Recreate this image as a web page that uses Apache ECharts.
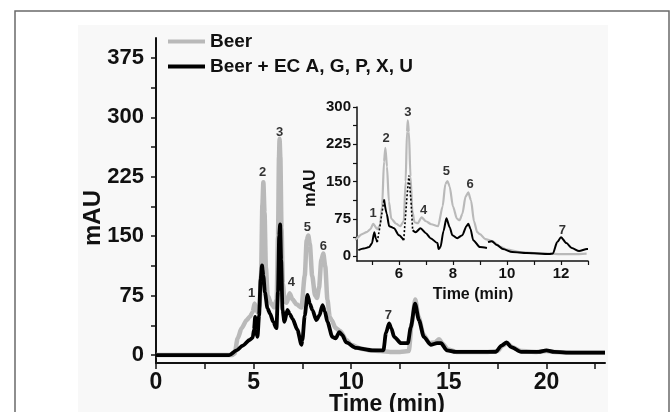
<!DOCTYPE html>
<html lang="en">
<head>
    <meta charset="UTF-8">
    <title>Beer electropherogram</title>
    <script src="https://cdn.jsdelivr.net/npm/echarts@6/dist/echarts.min.js"></script>
    <style>
        html, body { margin: 0; padding: 0; background: #fff; }
    </style>
</head>
<body>
    <div id="chart" style="width:670px; height:412px"></div>
    <script>
        // main trace: Beer (grey)
        const beerTime = [0, 3.9, 4.03, 4.18, 4.39, 4.64, 4.8, 4.95, 5.05, 5.2, 5.3, 5.38, 5.45, 5.5, 5.56, 5.63, 5.72, 5.9, 6.05, 6.18, 6.25, 6.3, 6.33, 6.37, 6.43, 6.5, 6.58, 6.7, 6.84, 7.0, 7.2, 7.45, 7.62, 7.72, 7.8, 7.88, 8.0, 8.15, 8.25, 8.35, 8.47, 8.57, 8.67, 8.78, 8.9, 9.0, 9.2, 9.45, 9.75, 10.0, 10.5, 11.0, 11.5, 12.0, 12.5, 12.95, 13.1, 13.28, 13.45, 13.7, 14.0, 14.3, 14.5, 14.7, 14.95, 15.4, 16, 17, 17.5, 17.75, 18.0, 18.25, 18.7, 19.5, 20.0, 20.4, 21.3, 22, 23];
        const beerValue = [0, 0, 2, 21, 34, 44, 48, 54, 65, 54, 62, 100, 190, 218, 180, 110, 75, 65, 60, 70, 150, 250, 273, 250, 160, 90, 68, 66, 78, 70, 64, 60, 100, 145, 151, 140, 100, 75, 72, 85, 120, 128, 112, 70, 48, 44, 34, 30, 19, 13, 8, 6, 5, 4, 4, 5, 40, 70, 48, 26, 15, 16, 20, 14, 7, 4, 4, 4, 5, 12, 15, 10, 5, 4, 5, 4, 3, 3, 3];

        // main trace: Beer + EC A, G, P, X, U (black)
        const spikedTime = [0, 3.75, 4.13, 4.44, 4.8, 4.95, 5.02, 5.08, 5.12, 5.2, 5.28, 5.36, 5.43, 5.5, 5.58, 5.71, 5.85, 6.0, 6.17, 6.25, 6.31, 6.36, 6.41, 6.48, 6.58, 6.73, 6.85, 6.99, 7.24, 7.45, 7.5, 7.62, 7.76, 7.88, 8.01, 8.21, 8.37, 8.53, 8.65, 8.78, 9.03, 9.2, 9.39, 9.55, 9.74, 10.25, 11.07, 11.65, 11.78, 11.94, 12.05, 12.2, 12.55, 12.9, 13.05, 13.27, 13.47, 13.72, 14.07, 14.4, 14.6, 14.9, 15.35, 17.4, 17.7, 17.96, 18.2, 18.7, 19.6, 20.0, 20.4, 21.3, 22.8, 23];
        const spikedValue = [0, 0, 6, 12, 19, 22, 32, 48, 30, 23, 50, 95, 113, 100, 79, 59, 52, 42, 34, 80, 150, 165, 120, 57, 42, 57, 52, 46, 32, 13, 19, 50, 76, 65, 57, 44, 50, 63, 55, 42, 23, 21, 29, 25, 16, 9, 6, 6, 28, 40, 34, 23, 15, 15, 35, 65, 44, 23, 13, 15, 15, 6, 4, 4, 12, 16, 10, 4, 4, 6, 4, 3, 3, 3];

        // inset black trace, solid pieces (null = break)
        const insetTime = [4.5, 4.7, 4.9, 5.0, 5.09, 5.15, 5.2, 5.3, 5.45, 5.55, 5.64, 5.82, 6.0, 6.18, 6.3, 6.51, 6.62, 6.8, 7.0, 7.17, 7.43, 7.47, 7.54, 7.65, 7.76, 7.88, 7.98, 8.16, 8.35, 8.5, 8.57, 8.65, 8.75, 9.0, 9.26, 9.28, 9.3, 9.44, 9.63, 9.85, 10.2, 10.73, 11.57, 11.7, 11.86, 12.0, 12.2, 12.4, 12.67, 12.96, 13.0];
        const insetValue = [12, 15, 18, 25, 48, 35, 28, null, 114, 85, 60, 56, 42, 32, null, 52, 48, 56, 46, 36, 26, 14, 18, 50, 76, 58, 42, 36, 42, 60, 65, 55, 32, 18, 16, null, 28, 30, 22, 14, 8, 6, 4, 5, 28, 38, 26, 16, 10, 14, 14];
        // inset dotted joins
        const joinTime = [5.2, 5.3, 5.45, null, 6.18, 6.3, 6.37, 6.45, 6.51];
        const joinValue = [28, 60, 114, null, 32, 120, 162, 110, 52];
        const insetEnd = 12.95;

        // peak labels
        const peakNames = ['1', '2', '3', '4', '5', '6', '7'];
        const mainPeakTime = [4.9, 5.46, 6.33, 6.94, 7.76, 8.57, 11.9];
        const mainPeakValue = [78, 231, 281, 92, 161, 137, 50];
        const insetPeakTime = [5.05, 5.53, 6.33, 6.92, 7.76, 8.64, 12.05];
        const insetPeakValue = [86, 236, 290, 92, 170, 144, 52];

        // axis ticks
        const mainXLabels = [0, 5, 10, 15, 20];
        const mainXTicks = [0, 2.5, 5, 7.5, 10, 12.5, 15, 17.5, 20, 22.5];
        const mainYLabels = [0, 75, 150, 225, 300, 375];
        const mainYTicks = [0, 37.5, 75, 112.5, 150, 187.5, 225, 262.5, 300, 337.5, 375];
        const insetXLabels = [6, 8, 10, 12];
        const insetXTicks = [5, 6, 7, 8, 9, 10, 11, 12, 13];
        const insetYLabels = [0, 75, 150, 225, 300];
        const insetYTicks = [0, 37.5, 75, 112.5, 150, 187.5, 225, 262.5, 300];

        const FONT = 'Liberation Sans, Arial, sans-serif';
        const INK = '#111';
        const GREY = '#b9b9b9';

        const zip = (ts, vs) => ts.map((t, i) => [t, vs[i]]);
        const toNullGaps = (ts, vs) => ts.map((t, i) => vs[i] === null ? [t, '-'] : [t, vs[i]]);
        const labelPts = (ts, vs) => ts.map((t, i) => ({ name: peakNames[i], value: [t, vs[i]] }));

        const chart = echarts.init(document.getElementById('chart'));

        const axisBase = {
            axisLine: { onZero: false, lineStyle: { color: INK, width: 2 } },
            splitLine: { show: false }
        };
        const labelStyle = { show: true, position: 'inside', formatter: '{b}', fontFamily: FONT, fontWeight: 'bold', fontSize: 13, color: '#000' };

        chart.setOption({
            animation: false,
            legend: {
                left: 163,
                top: 24,
                orient: 'vertical',
                icon: 'rect',
                itemWidth: 37,
                itemHeight: 4,
                itemGap: 0,
                selectedMode: false,
                data: ['Beer', 'Beer + EC A, G, P, X, U'],
                textStyle: { fontFamily: FONT, fontWeight: 'bold', fontSize: 19, color: INK, lineHeight: 25 }
            },
            graphic: [
                { type: 'rect', z: -100, shape: { x: 15, y: 11, width: 654, height: 420 }, style: { fill: '#fff', stroke: '#6a6a6a', lineWidth: 1.5 } },
                { type: 'rect', z: -99, shape: { x: 78, y: 25, width: 530, height: 400 }, style: { fill: '#f8f8f8' } },
                { type: 'text', z: 100, x: 93, y: 218, rotation: Math.PI / 2,
                  style: { text: 'mAU', fill: INK, font: 'bold 24px ' + FONT, textAlign: 'center', textVerticalAlign: 'middle' } },
                { type: 'text', z: 100, x: 387, y: 393,
                  style: { text: 'Time (min)', fill: INK, font: 'bold 23px ' + FONT, textAlign: 'center', textVerticalAlign: 'top' } },
                { type: 'text', z: 100, x: 311, y: 188, rotation: Math.PI / 2,
                  style: { text: 'mAU', fill: INK, font: 'bold 16px ' + FONT, textAlign: 'center', textVerticalAlign: 'middle' } },
                { type: 'text', z: 100, x: 473, y: 295,
                  style: { text: 'Time (min)', fill: INK, font: 'bold 16px ' + FONT, textAlign: 'center', textVerticalAlign: 'middle' } }
            ],
            grid: [
                { left: 156, right: 65, top: 38, bottom: 49 },
                { left: 357, right: 82, top: 107, bottom: 151 }
            ],
            xAxis: [
                Object.assign({}, axisBase, {
                    type: 'value', gridIndex: 0, min: 0, max: 23,
                    axisTick: { show: true, inside: false, length: 6, lineStyle: { color: INK, width: 1.5 }, customValues: mainXTicks },
                    axisLabel: { customValues: mainXLabels, margin: 8, fontFamily: FONT, fontWeight: 'bold', fontSize: 23, color: INK }
                }),
                Object.assign({}, axisBase, {
                    type: 'value', gridIndex: 1, min: 4.45, max: 13,
                    axisLine: { onZero: false, lineStyle: { color: INK, width: 1.5 } },
                    axisTick: { show: true, length: 4, lineStyle: { color: INK, width: 1.2 }, customValues: insetXTicks },
                    axisLabel: { customValues: insetXLabels, margin: 5, fontFamily: FONT, fontWeight: 'bold', fontSize: 15, color: INK }
                })
            ],
            yAxis: [
                Object.assign({}, axisBase, {
                    type: 'value', gridIndex: 0, min: -10, max: 400,
                    axisTick: { show: true, length: 5, lineStyle: { color: INK, width: 1.5 }, customValues: mainYTicks },
                    axisLabel: { customValues: mainYLabels, margin: 12, fontFamily: FONT, fontWeight: 'bold', fontSize: 22, color: INK }
                }),
                Object.assign({}, axisBase, {
                    type: 'value', gridIndex: 1, min: -10, max: 300,
                    axisLine: { onZero: false, lineStyle: { color: INK, width: 1.5 } },
                    axisTick: { show: true, length: 4, lineStyle: { color: INK, width: 1.2 }, customValues: insetYTicks },
                    axisLabel: { customValues: insetYLabels, margin: 6, fontFamily: FONT, fontWeight: 'bold', fontSize: 15, color: INK }
                })
            ],
            series: [
                {
                    name: 'Beer', type: 'line', xAxisIndex: 0, yAxisIndex: 0,
                    data: zip(beerTime, beerValue), showSymbol: false, silent: true,
                    smooth: 0.25, smoothMonotone: 'x',
                    color: GREY, lineStyle: { color: GREY, width: 4.5 }
                },
                {
                    name: 'Beer + EC A, G, P, X, U', type: 'line', xAxisIndex: 0, yAxisIndex: 0,
                    data: zip(spikedTime, spikedValue), showSymbol: false, silent: true,
                    smooth: 0.25, smoothMonotone: 'x',
                    color: '#000', lineStyle: { color: '#000', width: 3.8 }
                },
                {
                    name: 'Beer', type: 'line', xAxisIndex: 1, yAxisIndex: 1,
                    data: zip(beerTime, beerValue).filter(p => p[0] <= insetEnd), showSymbol: false, silent: true, clip: true,
                    smooth: 0.25, smoothMonotone: 'x',
                    lineStyle: { color: GREY, width: 2.2 }
                },
                {
                    name: 'Beer + EC A, G, P, X, U', type: 'line', xAxisIndex: 1, yAxisIndex: 1,
                    data: toNullGaps(insetTime, insetValue), connectNulls: false, showSymbol: false, silent: true, clip: true,
                    smooth: 0.25, smoothMonotone: 'x',
                    lineStyle: { color: '#000', width: 2 }
                },
                {
                    name: 'join', type: 'line', xAxisIndex: 1, yAxisIndex: 1,
                    data: toNullGaps(joinTime, joinValue), connectNulls: false, showSymbol: false, silent: true,
                    lineStyle: { color: '#000', width: 1.6, type: [2, 2] }
                },
                {
                    name: 'mainPeaks', type: 'scatter', xAxisIndex: 0, yAxisIndex: 0, silent: true,
                    symbolSize: 1, itemStyle: { color: 'rgba(0,0,0,0)' },
                    data: labelPts(mainPeakTime, mainPeakValue),
                    label: labelStyle
                },
                {
                    name: 'insetPeaks', type: 'scatter', xAxisIndex: 1, yAxisIndex: 1, silent: true,
                    symbolSize: 1, itemStyle: { color: 'rgba(0,0,0,0)' },
                    data: labelPts(insetPeakTime, insetPeakValue),
                    label: labelStyle
                }
            ]
        });
    </script>
</body>
</html>
